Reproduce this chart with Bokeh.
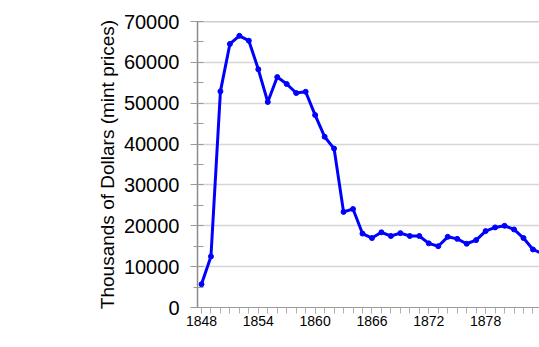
from bokeh.plotting import figure
from bokeh.models import Range1d, SingleIntervalTicker, Span, ColumnDataSource, NumeralTickFormatter
from bokeh.embed import file_html
from bokeh.resources import INLINE

years = list(range(1848, 1885))
values = [5700, 12500, 52900, 64500, 66500, 65300, 58300, 50300, 56400, 54700,
          52500, 52800, 47100, 41800, 38900, 23400, 24100, 18100, 17000, 18400,
          17500, 18200, 17500, 17500, 15700, 15000, 17300, 16800, 15600, 16500,
          18700, 19600, 20000, 19100, 17000, 14200, 13200]
y_label = "Thousands of Dollars (mint prices)"

src = ColumnDataSource(dict(x=years, y=values))

FONT = "Liberation Sans"
p = figure(width=539, height=347, x_range=Range1d(1847.58, 1883.69), y_range=Range1d(0, 70000),
           output_backend="svg", toolbar_location=None,
           min_border_left=197, min_border_right=0, min_border_top=21, min_border_bottom=40)
p.outline_line_color = None
p.background_fill_color = "white"
p.border_fill_color = "white"

p.line("x", "y", source=src, line_color="#0000ff", line_width=3)
p.scatter("x", "y", source=src, size=5, fill_color="#0000ff", line_color="#0000ff")

# y axis
ya = p.yaxis[0]
ya.ticker = SingleIntervalTicker(interval=10000, num_minor_ticks=2)
ya.formatter = NumeralTickFormatter(format="0")
ya.axis_line_color = "#8c8c8c"
ya.axis_line_width = 1.5
ya.major_tick_line_color = "#9a9a9a"
ya.minor_tick_line_color = "#9a9a9a"
ya.major_tick_out = 7
ya.major_tick_in = 0
ya.minor_tick_out = 4
ya.minor_tick_in = 6
ya.major_label_text_font = FONT
ya.major_label_text_font_size = "20px"
ya.major_label_text_color = "black"
ya.major_label_standoff = 11
ya.axis_label = y_label
ya.axis_label_text_font = FONT
ya.axis_label_text_font_size = "19px"
ya.axis_label_text_font_style = "normal"
ya.axis_label_text_color = "black"
ya.axis_label_standoff = 3

# x axis
xa = p.xaxis[0]
xa.ticker = SingleIntervalTicker(interval=6, num_minor_ticks=6)
xa.axis_line_color = "#9a9a9a"
xa.axis_line_width = 1
xa.major_tick_line_color = "#b0b0b0"
xa.minor_tick_line_color = "#b0b0b0"
xa.major_tick_out = 6
xa.major_tick_in = 0
xa.minor_tick_out = 6
xa.minor_tick_in = 0
xa.major_label_text_font = FONT
xa.major_label_text_font_size = "14px"
xa.major_label_text_color = "black"
xa.major_label_standoff = 2

p.xgrid.grid_line_color = None
p.ygrid.grid_line_color = "#d6d6d6"
p.ygrid.grid_line_width = 1.5

p.add_layout(Span(location=70000, dimension="width", line_color="#9a9a9a", line_width=1.5))

open("out.html", "w").write(file_html(p, INLINE))
